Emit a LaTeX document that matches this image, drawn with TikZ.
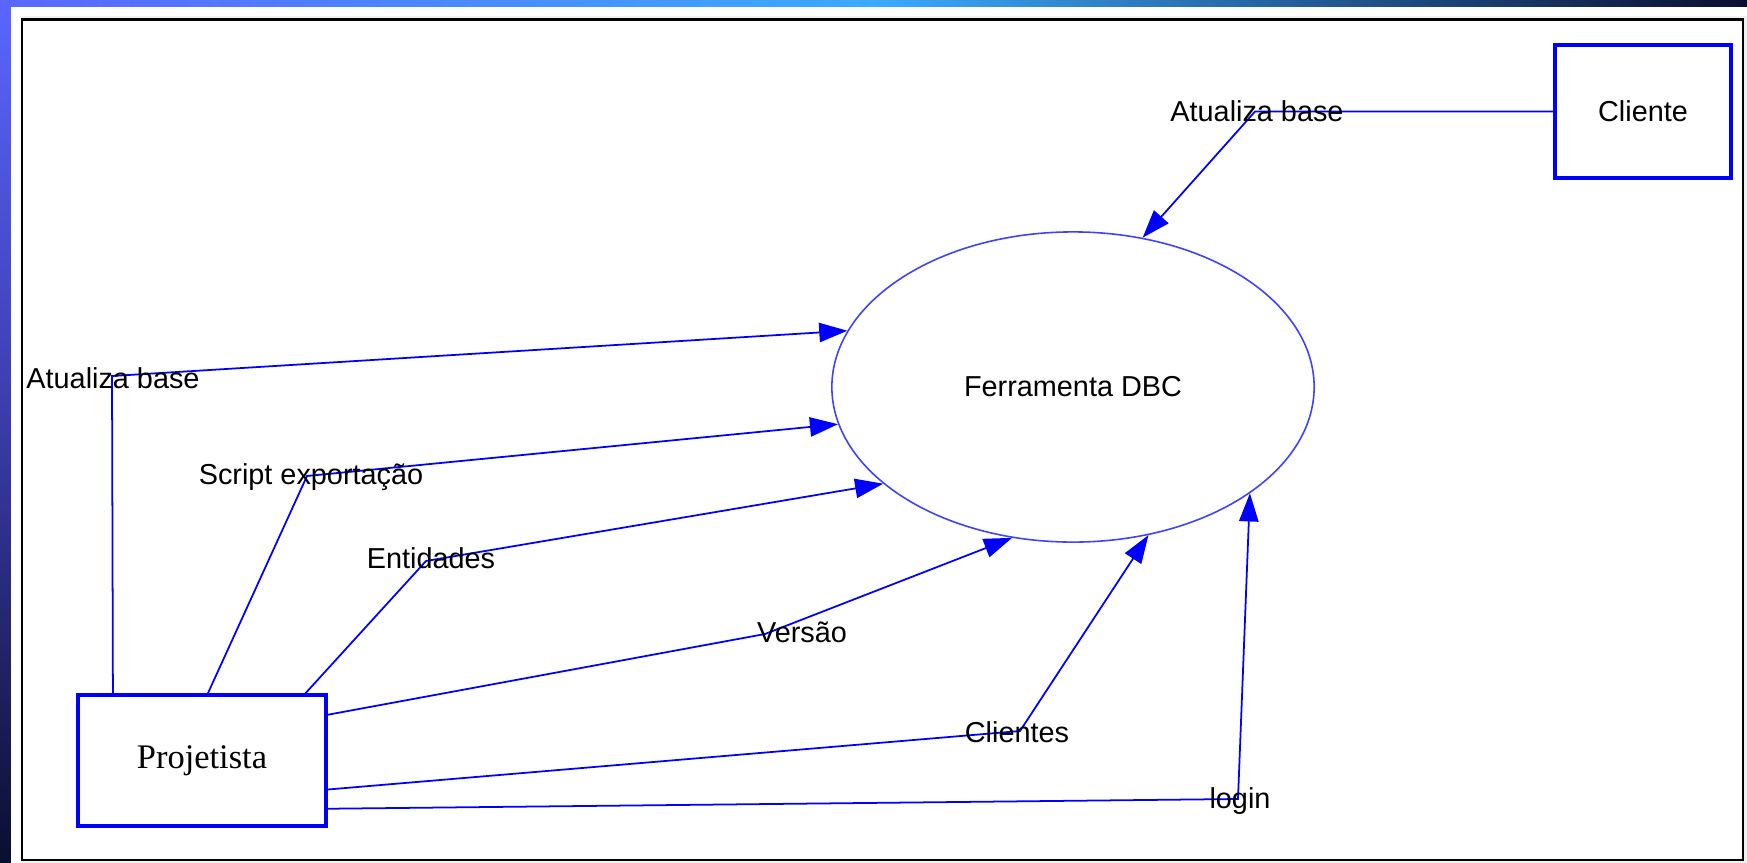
\documentclass[tikz,border=0pt]{standalone}
\usepackage{fontspec}
\setmainfont{Liberation Sans}
\newfontfamily\boxserif{Liberation Serif}
\usetikzlibrary{arrows.meta,shapes.geometric}
\definecolor{dfdblue}{RGB}{0,0,255}
\definecolor{bandA}{RGB}{90,102,255}
\definecolor{bandB}{RGB}{60,170,255}
\definecolor{bandC}{RGB}{10,14,46}
\definecolor{bandD}{RGB}{58,58,168}
\definecolor{pagegray}{RGB}{240,240,240}
\tikzset{every picture/.style={line width=0.2mm}}
\tikzset{
  entity/.style={draw=dfdblue, line width=0.9pt, rectangle, inner sep=0pt, font=\fontsize{8.2}{10}\selectfont},
  process/.style={draw=dfdblue!75, line width=0.45pt, ellipse, inner sep=0pt, minimum width=4.82cm, minimum height=3.1cm, font=\fontsize{8.2}{10}\selectfont},
  flow/.style={draw=dfdblue, line width=0.5pt, -{Triangle[length=8pt,width=5.5pt]}},
  flowlbl/.style={inner sep=0pt, font=\fontsize{8.2}{10}\selectfont}
}

\begin{document}
\begin{tikzpicture}[x=0.01cm,y=-0.01cm]
              \useasboundingbox (0,0) rectangle (1747,863);
              \fill[left color=bandA, right color=bandC, middle color=bandB] (0,0) rectangle (1747,7);
              \fill[top color=bandA, bottom color=bandC, middle color=bandD] (0,0) rectangle (11,863);
              \fill[white] (11,7) rectangle (1747,863);
              \fill[pagegray] (22,16) rectangle (1747,863);
              \draw[fill=white, line width=0.7pt] (22,19.5) rectangle (1743,860);
              \node[process] (dbc) at (1073,387) {Ferramenta DBC};
              \node[entity, minimum width=1.76cm, minimum height=1.33cm] (cli) at (1643,111.5) {Cliente};
              \node[entity, minimum width=2.48cm, minimum height=1.31cm, font=\boxserif\fontsize{9.8}{11}\selectfont] (proj) at (202,760.5) {Projetista};
              \coordinate (bCli) at (1255,111.5);
              \coordinate (bAtu) at (112,376);
              \coordinate (bScr) at (307,476);
              \coordinate (bEnt) at (426,561);
              \coordinate (bVer) at (765,634);
              \coordinate (bCls) at (1020,731);
              \coordinate (bLog) at (1238,799);
              \draw[flow] (cli.west) -- (bCli) -- (dbc.65.5);
              \draw[flow] (proj.143.95) -- (bAtu) -- (dbc.166.3);
              \draw[flow] (proj.85.6) -- (bScr) -- (dbc.189.7);
              \draw[flow] (proj.33.8) -- (bEnt) -- (dbc.207.8);
              \draw[flow] (proj.20.96) -- (bVer) -- (dbc.248.4);
              \draw[flow] (proj.-13.4) -- (bCls) -- (dbc.-63.6);
              \draw[flow] (proj.-21.8) -- (bLog) -- (dbc.-31.6);
              \node[flowlbl] (lCli) at (1257,111) {Atualiza base};
              \node[flowlbl] (lAtu) at (113,378) {Atualiza base};
              \node[flowlbl] (lScr) at (311,477) {Script exportação};
              \node[flowlbl] (lEnt) at (431,558) {Entidades};
              \node[flowlbl] (lVer) at (802,632) {Versão};
              \node[flowlbl] (lCls) at (1017,732) {Clientes};
              \node[flowlbl] (lLog) at (1240,801) {login};
            \end{tikzpicture}
\end{document}
